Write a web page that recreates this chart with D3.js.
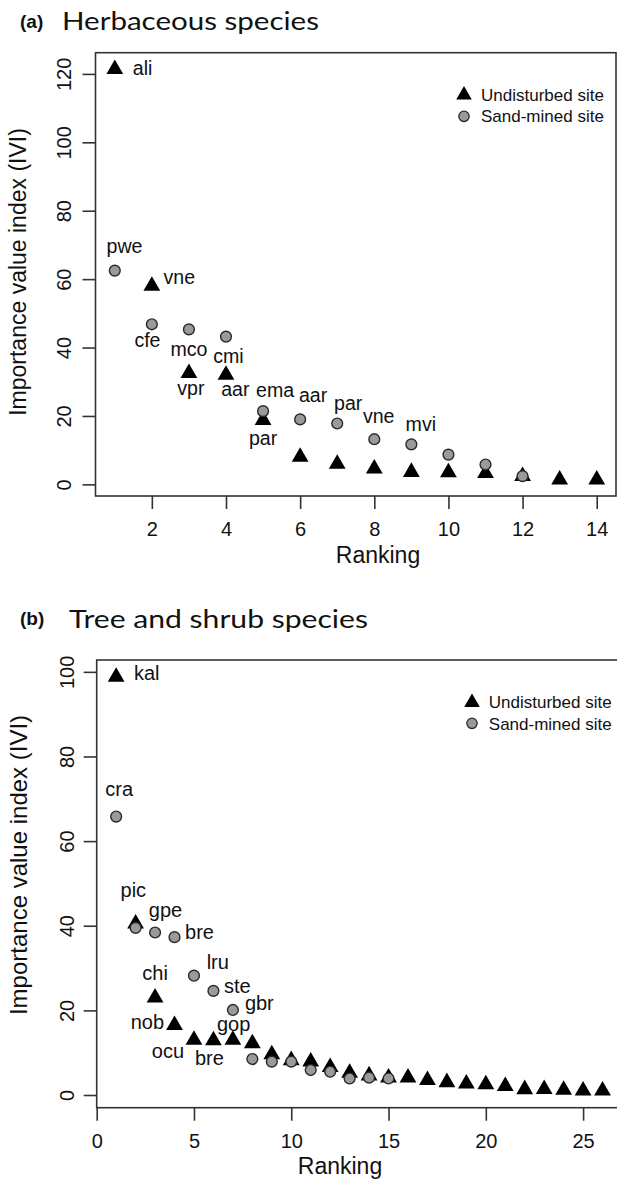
<!DOCTYPE html>
<html>
<head>
<meta charset="utf-8">
<script src="https://cdn.jsdelivr.net/npm/d3@7"></script>
<style>
  html, body { margin: 0; padding: 0; background: #fff; }
  svg { display: block; }
  text { font-family: "Liberation Sans", Arial, Helvetica, sans-serif; fill: #111; }
</style>
</head>
<body>
<svg id="chart" width="617" height="1184"></svg>
<script>
// ---------------- DATA ----------------
// (a) Herbaceous species
const herbUndisturbedRank = [1,2,3,4,5,6,7,8,9,10,11,12,13,14];
const herbUndisturbedIVI  = [121.4,58.0,32.5,32.0,18.8,8.0,6.0,4.6,3.6,3.5,3.3,2.4,1.4,1.4];
const herbUndisturbedLab  = ["ali","vne","vpr","aar","par","","","","","","","","",""];
const herbSandRank = [1,2,3,4,5,6,7,8,9,10,11,12];
const herbSandIVI  = [62.5,46.8,45.3,43.2,21.4,19.0,17.8,13.2,11.7,8.7,5.8,2.4];
const herbSandLab  = ["pwe","cfe","mco","cmi","ema","aar","par","vne","mvi","","",""];
const herbXTicks = [2,4,6,8,10,12,14];
const herbYTicks = [0,20,40,60,80,100,120];

// (b) Tree and shrub species
const treeUndisturbedRank = [1,2,3,4,5,6,7,8,9,10,11,12,13,14,15,16,17,18,19,20,21,22,23,24,25,26];
const treeUndisturbedIVI  = [98.8,40.5,23.0,16.5,13.0,12.9,13.0,12.2,9.6,8.2,7.9,6.6,5.2,4.6,4.1,4.1,3.5,3.0,2.7,2.5,2.1,1.35,1.4,1.2,1.0,1.0];
const treeUndisturbedLab  = ["kal","pic","chi","nob","ocu","bre","gop"];
const treeSandRank = [1,2,3,4,5,6,7,8,9,10,11,12,13,14,15];
const treeSandIVI  = [65.8,39.5,38.4,37.3,28.2,24.6,20.1,8.5,7.9,7.9,5.9,5.5,3.9,4.1,3.9];
const treeSandLab  = ["cra","","gpe","bre","lru","ste","gbr"];
const treeXTicks = [0,5,10,15,20,25];
const treeYTicks = [0,20,40,60,80,100];

const legendLabels = ["Undisturbed site","Sand-mined site"];

// ---------------- LAYOUT / STYLE (not data) ----------------
// label placement: [anchor, dx, dy] relative to the marker centre
const herbUndisturbedPlace = {
  ali:["start",18,6], vne:["start",11.6,-2], vpr:["middle",2,21.7],
  aar:["middle",9.4,21], par:["middle",0,25]
};
const herbSandPlace = {
  pwe:["middle",9.7,-17.4], cfe:["middle",-4.4,23], mco:["middle",0,26.4],
  cmi:["middle",2.4,26], ema:["middle",12,-13.7], aar:["middle",13,-17],
  par:["middle",11,-13.3], vne:["middle",4.4,-16], mvi:["middle",9.5,-13.3]
};
const treeUndisturbedPlace = {
  kal:["start",17.8,3], pic:["middle",-2.3,-26.5], chi:["middle",0,-18],
  nob:["end",-10.5,4], ocu:["middle",-26,18], bre:["middle",-4,25], gop:["middle",0.8,-8.5]
};
const treeSandPlace = {
  cra:["middle",3,-20.7], gpe:["middle",10.4,-16], bre:["start",10.5,2],
  lru:["start",12.7,-6.4], ste:["start",10.5,2.3], gbr:["start",12,0]
};

const panels = [
  {
    letter: "(a)", title: "Herbaceous species", titleX: 62, titleY: 30, titleLen: 257, letterY: 27.5,
    xDomain: [0.48, 14.52], xRange: [95.5, 616],
    yDomain: [-3.4, 126.2], yRange: [496, 52.7],
    xTicks: herbXTicks, yTicks: herbYTicks,
    und: {r: herbUndisturbedRank, v: herbUndisturbedIVI, lab: herbUndisturbedLab, place: herbUndisturbedPlace},
    sand: {r: herbSandRank, v: herbSandIVI, lab: herbSandLab, place: herbSandPlace},
    yTitleX: 25.5, yTitleY: 272, yTitleSize: 23,
    xTitleX: 378, xTitleY: 563,
    yLabOff: 24.5, xLabOff: 40,
    legX: 464, legY1: 95, legY2: 116.3, legTextX: 481, legBase1: 101, legBase2: 122.3,
    drawRight: true, labelSize: 19.6
  },
  {
    letter: "(b)", title: "Tree and shrub species", titleX: 69, titleY: 628, titleLen: 299, letterY: 625,
    xDomain: [0, 27], xRange: [96.7, 622],
    yDomain: [-3.0, 102.8], yRange: [1107.7, 660],
    xTicks: treeXTicks, yTicks: treeYTicks,
    und: {r: treeUndisturbedRank, v: treeUndisturbedIVI, lab: treeUndisturbedLab, place: treeUndisturbedPlace},
    sand: {r: treeSandRank, v: treeSandIVI, lab: treeSandLab, place: treeSandPlace},
    yTitleX: 27, yTitleY: 865, yTitleSize: 24,
    xTitleX: 340, xTitleY: 1174,
    yLabOff: 22.5, xLabOff: 40.6,
    legX: 472, legY1: 702.6, legY2: 723.3, legTextX: 488.8, legBase1: 708.3, legBase2: 730,
    drawRight: true, labelSize: 20
  }
];

const svg = d3.select("#chart");
const TRI_R = 9.7;
const CIRC_R = 5.4;
const triPath = r => {
  const hw = r * Math.sqrt(3) / 2;
  return `M0,${-r}L${hw},${r/2}L${-hw},${r/2}Z`;
};

panels.forEach(p => {
  const x = d3.scaleLinear().domain(p.xDomain).range(p.xRange);
  const y = d3.scaleLinear().domain(p.yDomain).range(p.yRange);
  const g = svg.append("g");

  // titles
  g.append("text").attr("x", 20).attr("y", p.letterY)
    .style("font-weight", "bold").style("font-size", "19px").text(p.letter);
  g.append("text").attr("x", p.titleX).attr("y", p.titleY)
    .style("font-family", "Lato, 'Open Sans', sans-serif").style("font-size", "25px")
    .attr("textLength", p.titleLen).attr("lengthAdjust", "spacingAndGlyphs")
    .text(p.title);

  // box
  const [x0, x1] = p.xRange, [y0, y1] = [p.yRange[1], p.yRange[0]];
  g.append("rect").attr("x", x0).attr("y", y0).attr("width", x1 - x0).attr("height", y1 - y0)
    .attr("fill", "none").attr("stroke", "#333").attr("stroke-width", 1.6);

  // y axis
  const ya = g.append("g").attr("transform", `translate(${x0},0)`)
    .call(d3.axisLeft(y).tickValues(p.yTicks).tickSize(13).tickSizeOuter(0).tickFormat(d3.format("d")));
  ya.select(".domain").remove();
  ya.selectAll(".tick line").attr("stroke", "#333").attr("stroke-width", 1.6);
  ya.selectAll(".tick text")
    .attr("x", 0).attr("y", -p.yLabOff).attr("dy", 0)
    .attr("transform", "rotate(-90)")
    .attr("text-anchor", "middle")
    .style("font-size", "20px").style("font-family", "'Liberation Sans', Arial, sans-serif").attr("fill", "#111");

  // x axis
  const xa = g.append("g").attr("transform", `translate(0,${y1})`)
    .call(d3.axisBottom(x).tickValues(p.xTicks).tickSize(13).tickSizeOuter(0).tickFormat(d3.format("d")));
  xa.select(".domain").remove();
  xa.selectAll(".tick line").attr("stroke", "#333").attr("stroke-width", 1.6);
  xa.selectAll(".tick text")
    .attr("y", p.xLabOff).attr("dy", 0)
    .style("font-size", "20px").style("font-family", "'Liberation Sans', Arial, sans-serif").attr("fill", "#111");

  // axis titles
  g.append("text")
    .attr("transform", `translate(${p.yTitleX},${p.yTitleY}) rotate(-90)`)
    .attr("text-anchor", "middle").style("font-size", p.yTitleSize + "px")
    .text("Importance value index (IVI)");
  g.append("text").attr("x", p.xTitleX).attr("y", p.xTitleY)
    .attr("text-anchor", "middle").style("font-size", "23px").text("Ranking");

  // undisturbed triangles
  const und = p.und.r.map((r, i) => ({r, v: p.und.v[i], lab: p.und.lab[i] || ""}));
  const sand = p.sand.r.map((r, i) => ({r, v: p.sand.v[i], lab: p.sand.lab[i] || ""}));

  g.append("g").selectAll("path").data(und).join("path")
    .attr("d", triPath(TRI_R))
    .attr("transform", d => `translate(${x(d.r)},${y(d.v)})`)
    .attr("fill", "#000");

  g.append("g").selectAll("circle").data(sand).join("circle")
    .attr("cx", d => x(d.r)).attr("cy", d => y(d.v)).attr("r", CIRC_R)
    .attr("fill", "#9a9a9a").attr("stroke", "#2a2a2a").attr("stroke-width", 1.4);

  // labels
  const addLabels = (arr, place) => {
    g.append("g").selectAll("text").data(arr.filter(d => d.lab && place[d.lab])).join("text")
      .attr("x", d => x(d.r) + place[d.lab][1])
      .attr("y", d => y(d.v) + place[d.lab][2])
      .attr("text-anchor", d => place[d.lab][0])
      .style("font-size", p.labelSize + "px")
      .text(d => d.lab);
  };
  addLabels(und, p.und.place);
  addLabels(sand, p.sand.place);

  // legend
  const lg = g.append("g");
  lg.append("path").attr("d", triPath(9)).attr("transform", `translate(${p.legX},${p.legY1})`).attr("fill", "#000");
  lg.append("circle").attr("cx", p.legX).attr("cy", p.legY2).attr("r", 5.2)
    .attr("fill", "#9a9a9a").attr("stroke", "#2a2a2a").attr("stroke-width", 1.3);
  lg.append("text").attr("x", p.legTextX).attr("y", p.legBase1).style("font-size", "17px").text(legendLabels[0]);
  lg.append("text").attr("x", p.legTextX).attr("y", p.legBase2).style("font-size", "17px").text(legendLabels[1]);
});
</script>
</body>
</html>
